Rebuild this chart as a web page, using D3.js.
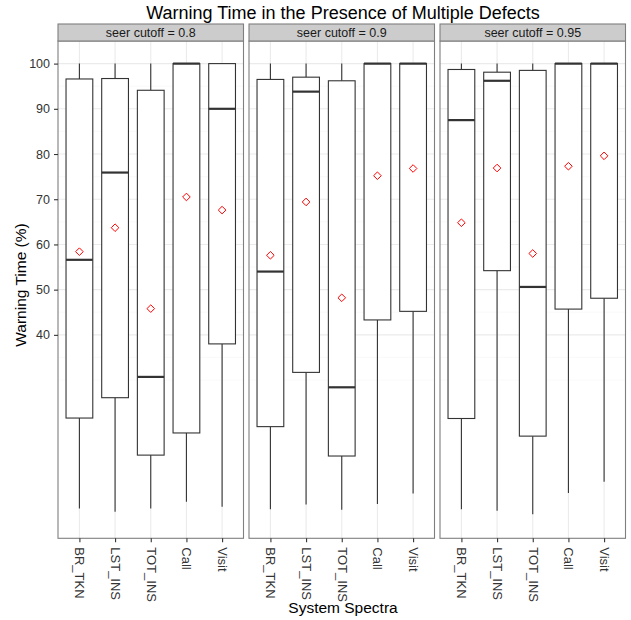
<!DOCTYPE html>
<html lang="en">
<head>
<meta charset="UTF-8">
<title>Warning Time in the Presence of Multiple Defects</title>
<script src="https://d3js.org/d3.v7.min.js"></script>
<style>
    body { margin: 0; background: #fff; }
    svg { font-family: "Liberation Sans", Arial, sans-serif; }
</style>
</head>
<body>
<svg id="chart" width="631" height="620"></svg>
<script>
// categories and facets
var categories = ["BR_TKN", "LST_INS", "TOT_INS", "Call", "Visit"];
var cutoffs = ["0.8", "0.9", "0.95"];
var yTicks = [40, 50, 60, 70, 80, 90, 100];
var yMinor = [30, 35, 45, 55, 65, 75, 85, 95, 105];

// box statistics, one row per cutoff
var whiskerLow = [
    [1.6, 0.9, 1.6, 3.1, 2.0],
    [1.4, 2.5, 1.3, 2.6, 4.9],
    [1.4, 1.1, 0.3, 5.0, 7.5]
];
var q1 = [
    [21.6, 26.1, 13.4, 18.3, 38.0],
    [19.7, 31.7, 13.2, 43.3, 45.2],
    [21.5, 54.2, 17.6, 45.7, 48.1]
];
var medians = [
    [56.6, 75.9, 30.7, 100, 90.0],
    [54.0, 93.8, 28.4, 100, 100],
    [87.5, 96.2, 50.6, 100, 100]
];
var q3 = [
    [96.6, 96.7, 94.1, 100, 100],
    [96.5, 97.0, 96.2, 100, 100],
    [98.7, 98.1, 98.5, 100, 100]
];
var whiskerHigh = [
    [100, 100, 100, 100, 100],
    [100, 100, 100, 100, 100],
    [100, 100, 100, 100, 100]
];
var means = [
    [58.4, 63.7, 45.8, 70.5, 67.6],
    [57.6, 69.4, 48.2, 75.2, 76.8],
    [64.8, 76.9, 58.0, 77.3, 79.6]
];

var svg = d3.select("#chart");

// layout
var panelTop = 41, panelBottom = 538.3;
var panelLeft = 58, panelW = 185.5, gap = 5.5;
var stripH = 17;

var y = d3.scaleLinear().domain([-5, 105]).range([panelBottom, panelTop]);

// title
svg.append("text")
    .attr("x", 343).attr("y", 19)
    .attr("text-anchor", "middle")
    .style("font-size", "18px")
    .text("Warning Time in the Presence of Multiple Defects");

cutoffs.forEach(function(cut, i) {
    var x0 = panelLeft + i * (panelW + gap);
    var g = svg.append("g").attr("transform", "translate(" + x0 + ",0)");

    var x = d3.scalePoint()
        .domain(categories)
        .range([0, panelW])
        .padding(0.6);
    var boxW = x.step() * 0.75;

    // panel background
    g.append("rect")
        .attr("x", 0).attr("y", panelTop)
        .attr("width", panelW).attr("height", panelBottom - panelTop)
        .attr("fill", "#fff");

    // grid
    g.selectAll(".minor").data(yMinor).enter().append("line")
        .attr("x1", 0).attr("x2", panelW)
        .attr("y1", d => y(d)).attr("y2", d => y(d))
        .attr("stroke", "#f7f7f7").attr("stroke-width", 0.6);
    g.selectAll(".hmajor").data(yTicks).enter().append("line")
        .attr("x1", 0).attr("x2", panelW)
        .attr("y1", d => y(d)).attr("y2", d => y(d))
        .attr("stroke", "#ebebeb").attr("stroke-width", 1.1);
    g.selectAll(".vmajor").data(categories).enter().append("line")
        .attr("x1", d => x(d)).attr("x2", d => x(d))
        .attr("y1", panelTop).attr("y2", panelBottom)
        .attr("stroke", "#ebebeb").attr("stroke-width", 1.1);

    var rows = categories.map(function(c, j) {
        return {
            cat: c,
            lo: whiskerLow[i][j], q1: q1[i][j], med: medians[i][j],
            q3: q3[i][j], hi: whiskerHigh[i][j], mean: means[i][j]
        };
    });

    var box = g.selectAll(".box").data(rows).enter().append("g");

    // whiskers
    box.append("line")
        .attr("x1", d => x(d.cat)).attr("x2", d => x(d.cat))
        .attr("y1", d => y(d.q3)).attr("y2", d => y(d.hi))
        .attr("stroke", "#333").attr("stroke-width", 1.1);
    box.append("line")
        .attr("x1", d => x(d.cat)).attr("x2", d => x(d.cat))
        .attr("y1", d => y(d.q1)).attr("y2", d => y(d.lo))
        .attr("stroke", "#333").attr("stroke-width", 1.1);

    // boxes
    box.append("rect")
        .attr("x", d => x(d.cat) - boxW / 2)
        .attr("y", d => y(d.q3))
        .attr("width", boxW)
        .attr("height", d => y(d.q1) - y(d.q3))
        .attr("fill", "#fff")
        .attr("stroke", "#333").attr("stroke-width", 1.1);

    // medians
    box.append("line")
        .attr("x1", d => x(d.cat) - boxW / 2).attr("x2", d => x(d.cat) + boxW / 2)
        .attr("y1", d => y(d.med)).attr("y2", d => y(d.med))
        .attr("stroke", "#333").attr("stroke-width", 2.2);

    // means as open red diamonds
    var r = 3.8;
    box.append("path")
        .attr("d", "M0," + (-r) + "L" + r + ",0L0," + r + "L" + (-r) + ",0Z")
        .attr("transform", d => "translate(" + x(d.cat) + "," + y(d.mean) + ")")
        .attr("fill", "none")
        .attr("stroke", "red").attr("stroke-width", 1);

    // panel border
    g.append("rect")
        .attr("x", 0).attr("y", panelTop)
        .attr("width", panelW).attr("height", panelBottom - panelTop)
        .attr("fill", "none").attr("stroke", "#7f7f7f").attr("stroke-width", 1.1);

    // strip
    g.append("rect")
        .attr("x", 0).attr("y", panelTop - stripH)
        .attr("width", panelW).attr("height", stripH)
        .attr("fill", "#cccccc").attr("stroke", "#7f7f7f").attr("stroke-width", 1.1);
    g.append("text")
        .attr("x", panelW / 2).attr("y", panelTop - stripH / 2 + 4.3)
        .attr("text-anchor", "middle")
        .style("font-size", "12.5px")
        .attr("fill", "#1a1a1a")
        .text("seer cutoff = " + cut);

    // x axis
    var xAxis = g.append("g")
        .attr("transform", "translate(0," + panelBottom + ")")
        .call(d3.axisBottom(x).tickSize(4).tickSizeOuter(0));
    xAxis.select(".domain").remove();
    xAxis.selectAll("line").attr("stroke", "#333").attr("stroke-width", 1.1);
    xAxis.selectAll("text")
        .attr("fill", "#333")
        .style("font-size", "13px")
        .style("font-family", "'Liberation Sans', Arial, sans-serif")
        .attr("text-anchor", "start")
        .attr("transform", "rotate(90)")
        .attr("x", 9).attr("y", 0).attr("dy", "0.35em");

    // y axis only on the first panel
    if (i === 0) {
        var yAxis = g.append("g")
            .call(d3.axisLeft(y).tickValues(yTicks).tickSize(4).tickPadding(4));
        yAxis.select(".domain").remove();
        yAxis.selectAll("line").attr("stroke", "#333").attr("stroke-width", 1.1);
        yAxis.selectAll("text")
            .attr("fill", "#333")
            .style("font-size", "12.5px")
            .style("font-family", "'Liberation Sans', Arial, sans-serif");
    }
});

// axis titles
svg.append("text")
    .attr("x", 343).attr("y", 613)
    .attr("text-anchor", "middle")
    .style("font-size", "15.5px")
    .text("System Spectra");

svg.append("text")
    .attr("transform", "translate(25.5," + 285 + ") rotate(-90)")
    .attr("text-anchor", "middle")
    .style("font-size", "15.5px")
    .text("Warning Time (%)");
</script>
</body>
</html>
